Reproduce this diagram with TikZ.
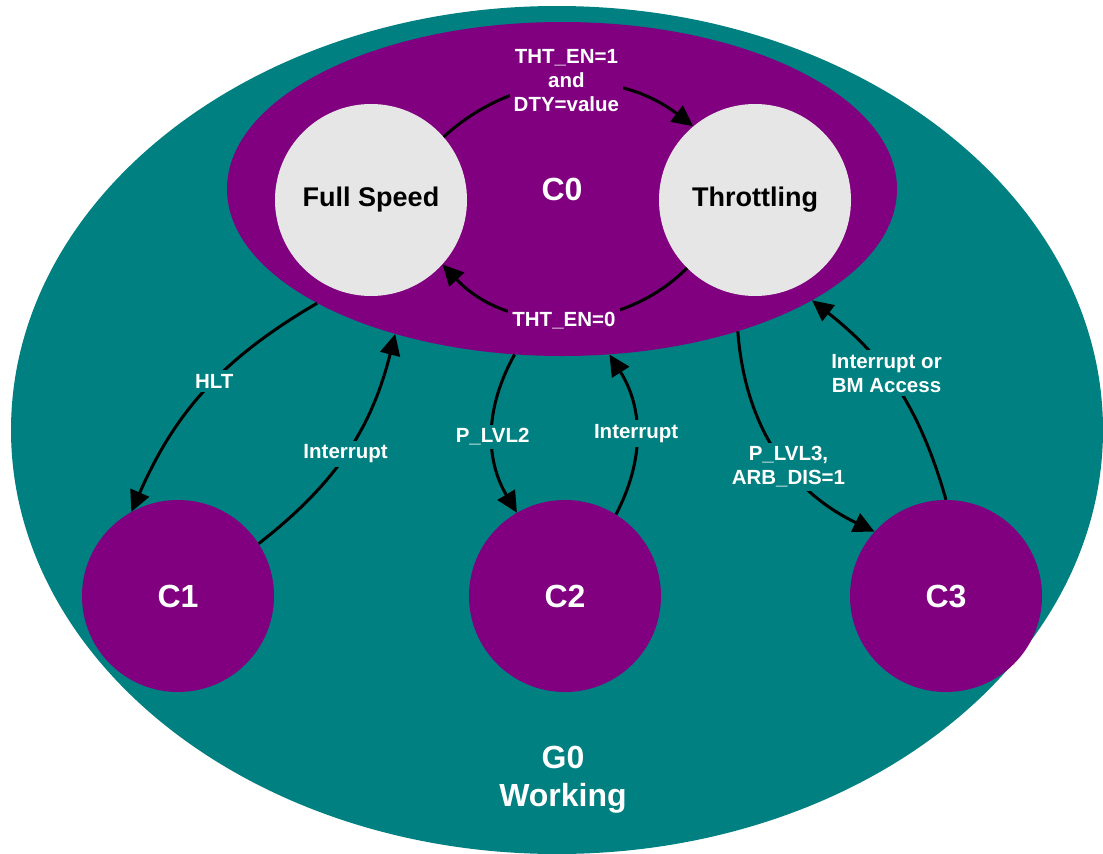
\documentclass[tikz,border=0pt]{standalone}
\usepackage{fontspec}
\setmainfont{Liberation Sans}
\usetikzlibrary{shapes.geometric,arrows.meta}
\definecolor{tealbg}{RGB}{0,128,128}
\definecolor{purp}{RGB}{128,0,128}
\definecolor{lgrey}{RGB}{230,230,230}
\begin{document}
\begin{tikzpicture}[x=1pt,y=-1pt,
  conn/.style={line width=3pt,-{Triangle[length=21pt,width=20pt]}},
  lab/.style={font=\bfseries\fontsize{20.5}{24}\selectfont,text=white,inner sep=4pt,align=center},
  ontl/.style={lab,fill=tealbg},
  onpu/.style={lab,fill=purp},
  cstate/.style={circle,fill=purp,minimum size=192pt,inner sep=0pt,text=white,font=\bfseries\fontsize{32}{38}\selectfont},
  gstate/.style={circle,fill=lgrey,minimum size=192pt,inner sep=0pt,text=black,font=\bfseries\fontsize{27}{32}\selectfont}]
\useasboundingbox (0,0) rectangle (1103,854);
\node[ellipse,fill=tealbg,minimum width=1092pt,minimum height=848pt,inner sep=0pt] (g0) at (557,430) {};
\node[ellipse,fill=purp,minimum width=670pt,minimum height=334pt,inner sep=0pt,text=white,font=\bfseries\fontsize{32}{38}\selectfont] (c0) at (562,189) {C0};
\node[gstate] (fs) at (371,200) {Full Speed};
\node[gstate] (th) at (755,200) {Throttling};
\node[cstate] (c1) at (178,596) {C1};
\node[cstate] (c2) at (565,596) {C2};
\node[cstate] (c3) at (946,596) {C3};
\node[text=white,align=center,font=\bfseries\fontsize{32}{38}\selectfont] (g0lab) at (563,780) {G0\\Working};
\draw[conn] (fs.41) to[bend left=40] node[onpu,pos=0.5,yshift=4pt]{THT\_EN=1\\and\\DTY=value} (th.130);
\draw[conn] (th.225) to[bend left=46] node[onpu,pos=0.5,yshift=-3pt]{THT\_EN=0} (fs.318);
\draw[conn] (c0.205) to[bend right=18] node[ontl,pos=0.45]{HLT} (c1.119);
\draw[conn] (c1.33) to[bend right=19] node[ontl,pos=0.49]{Interrupt} (c0.221);
\draw[conn] (c0.254) to[bend right=30] node[ontl,pos=0.52]{P\_LVL2} (c2.120);
\draw[conn] (c2.58) to[bend right=30] node[ontl,pos=0.5]{Interrupt} (c0.286);
\draw[conn] (c0.321) to[bend right=30] node[ontl,pos=0.58]{P\_LVL3,\\ARB\_DIS=1} (c3.138);
\draw[conn] (c3.90) to[bend right=18] node[ontl,pos=0.58]{Interrupt or\\BM Access} (c0.336);
\end{tikzpicture}
\end{document}
